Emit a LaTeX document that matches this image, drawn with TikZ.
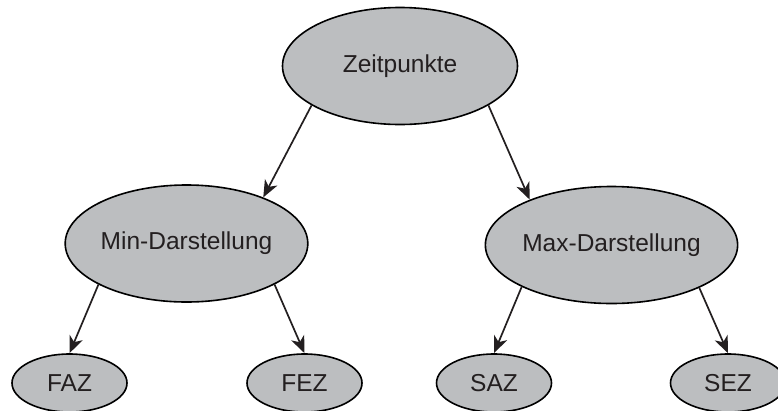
\documentclass[tikz,border=0pt]{standalone}
\usepackage{fontspec}
\setmainfont{Liberation Sans}
\usetikzlibrary{shapes.geometric,arrows.meta}
\definecolor{nodefill}{HTML}{BCBEC0}
\definecolor{inktext}{HTML}{231F20}
\begin{document}
\begin{tikzpicture}[x=1pt,y=-1pt,
  bigoval/.style={ellipse,draw=black,fill=nodefill,line width=1.6pt,
    minimum width=235pt,minimum height=117pt,inner sep=0pt,
    text=inktext,font=\fontsize{24.5}{28}\selectfont},
  smalloval/.style={ellipse,draw=black,fill=nodefill,line width=1.6pt,
    minimum width=115pt,minimum height=58pt,inner sep=0pt,
    text=inktext,font=\fontsize{24.5}{28}\selectfont},
  link/.style={draw=inktext,line width=1.7pt,
    -{Stealth[length=17pt,width=14pt,inset=5pt]}}]
\useasboundingbox (0,0) rectangle (778,410);
% tree of nodes
\node[bigoval] (top) at (400,66) {Zeitpunkte};
\node[bigoval] (min) at (186.5,243.5) {Min-Darstellung};
\node[bigoval] (max) at (611.5,245) {Max-Darstellung};
\node[smalloval] (faz) at (69.5,383) {FAZ};
\node[smalloval] (fez) at (304.5,383) {FEZ};
\node[smalloval] (saz) at (494,383) {SAZ};
\node[smalloval] (sez) at (728,383) {SEZ};
% connectors
\draw[link] (top.204.5) -- (min.31);
\draw[link] (top.336) -- (max.151.6);
\draw[link] (min.205.4) -- (faz.north);
\draw[link] (min.335.5) -- (fez.north);
\draw[link] (max.205.4) -- (saz.north);
\draw[link] (max.334) -- (sez.north);
\end{tikzpicture}
\end{document}
